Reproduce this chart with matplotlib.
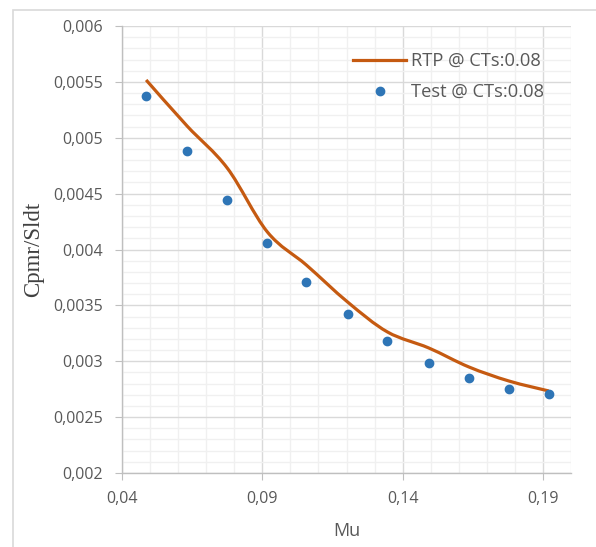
import numpy as np
import matplotlib.pyplot as plt
from matplotlib.path import Path
from matplotlib.patches import PathPatch, Rectangle
from matplotlib.lines import Line2D
from matplotlib.ticker import MultipleLocator, FixedLocator, FuncFormatter

# Mu values and power coefficients
mu = [0.0486, 0.0632, 0.0775, 0.0918, 0.1057, 0.1204, 0.1346, 0.1493, 0.1636, 0.1779, 0.1921]
cp_test = [0.005374, 0.004881, 0.004443, 0.004058, 0.003709, 0.003423,
           0.003181, 0.002984, 0.002850, 0.002752, 0.002707]
cp_rtp = [0.005517, 0.005105, 0.004729, 0.004157, 0.003861, 0.003530,
          0.003262, 0.003119, 0.002949, 0.002823, 0.002734]
x_ticks = [0.04, 0.09, 0.14, 0.19]

orange = '#C55A11'
blue = '#2E75B6'
gray_txt = '#595959'
font = 'Open Sans'

fig = plt.figure(figsize=(5.96, 5.47), dpi=100)
ax = fig.add_axes([122/596, 1 - 473/547, (571 - 122)/596, (473 - 26)/547])

# outer chart frame
fig.patches.append(Rectangle((13/596, -0.1), 1.2, 1 - 10/547 + 0.1,
                             transform=fig.transFigure, fill=False,
                             edgecolor='#d9d9d9', linewidth=1.2))

# smoothed line: cubic bezier segments like a spreadsheet "smoothed line"
x = np.array(mu)
y = np.array(cp_rtp)
verts = [(x[0], y[0])]
codes = [Path.MOVETO]
n = len(x)
for i in range(n - 1):
    p0 = np.array([x[max(i - 1, 0)], y[max(i - 1, 0)]])
    p1 = np.array([x[i], y[i]])
    p2 = np.array([x[i + 1], y[i + 1]])
    p3 = np.array([x[min(i + 2, n - 1)], y[min(i + 2, n - 1)]])
    c1 = p1 + (p2 - p0) / 6
    c2 = p2 - (p3 - p1) / 6
    verts += [tuple(c1), tuple(c2), tuple(p2)]
    codes += [Path.CURVE4, Path.CURVE4, Path.CURVE4]
ax.add_patch(PathPatch(Path(verts, codes), facecolor='none', edgecolor=orange,
                       linewidth=2.3, capstyle='butt', zorder=3))

ax.plot(mu, cp_test, 'o', color=blue, markersize=6, zorder=4)

ax.set_xlim(0.04, 0.2)
ax.set_ylim(0.002, 0.006)
ax.xaxis.set_major_locator(FixedLocator(x_ticks))
ax.xaxis.set_minor_locator(MultipleLocator(0.01))
ax.yaxis.set_major_locator(MultipleLocator(0.0005))
ax.yaxis.set_minor_locator(MultipleLocator(0.0001))

def comma_fmt(v, pos):
    s = ('%.4f' % v).rstrip('0')
    if s.endswith('.'):
        s += '0'
    return s.replace('.', ',')

ax.xaxis.set_major_formatter(FuncFormatter(comma_fmt))
ax.yaxis.set_major_formatter(FuncFormatter(comma_fmt))

ax.grid(which='major', color='#d9d9d9', linewidth=1.0)
ax.grid(which='minor', color='#f0f0f0', linewidth=1.0)
ax.set_axisbelow(True)
for s in ['top', 'right']:
    ax.spines[s].set_visible(False)
for s in ['left', 'bottom']:
    ax.spines[s].set_color('#bfbfbf')
    ax.spines[s].set_linewidth(1.0)
ax.tick_params(which='major', length=5, color='#bfbfbf', labelcolor=gray_txt,
               labelsize=11.5)
ax.tick_params(axis='y', pad=9)
ax.tick_params(axis='x', pad=8)
ax.tick_params(which='minor', length=0)
for lab in ax.get_xticklabels() + ax.get_yticklabels():
    lab.set_family(font)

ax.set_xlabel('Mu', family=font, fontsize=13, color=gray_txt, labelpad=11)
ax.set_ylabel('Cpmr/Sldt', family='Liberation Serif', fontsize=16.5, color='#404040', labelpad=6)

handles = [Line2D([], [], color=orange, linewidth=2.3),
           Line2D([], [], linestyle='none', marker='o', color=blue, markersize=6)]
leg = ax.legend(handles, ['RTP @ CTs:0.08', 'Test @ CTs:0.08'],
                loc='upper left', bbox_to_anchor=((353 - 122)/449, (473 - 52)/447),
                frameon=False, borderpad=0, borderaxespad=0,
                prop={'family': font, 'size': 13.2}, labelcolor=gray_txt,
                handlelength=2.9, handletextpad=0.27, labelspacing=0.72)

fig.savefig('out.png', dpi=100)
